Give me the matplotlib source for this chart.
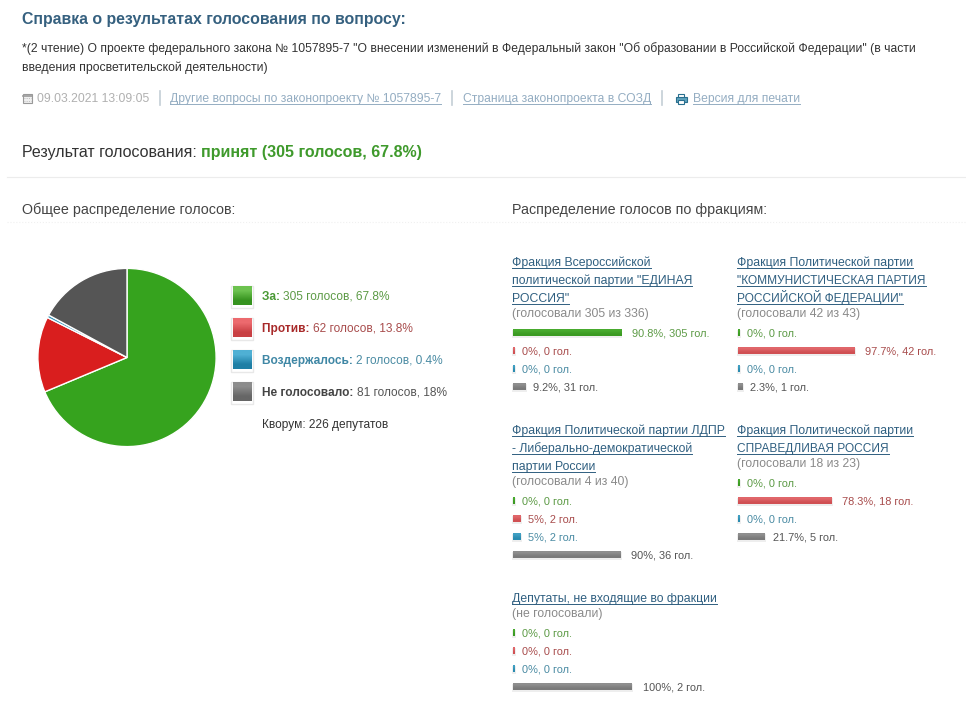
import numpy as np
import matplotlib
matplotlib.use('Agg')
import matplotlib.pyplot as plt

plt.rcParams['font.family'] = ['Liberation Sans', 'DejaVu Sans']

# pie data, slice shares as they are drawn in the picture
pie_labels = ['За:', 'Против:', 'Воздержалось:', 'Не голосовало:']
pie_details = ['305 голосов, 67.8%', '62 голосов, 13.8%', '2 голосов, 0.4%', '81 голосов, 18%']
pie_shares = [68.7, 13.7, 0.5, 17.1]

# factions
faction_titles = [
    ['Фракция Всероссийской', 'политической партии "ЕДИНАЯ', 'РОССИЯ"'],
    ['Фракция Политической партии', '"КОММУНИСТИЧЕСКАЯ ПАРТИЯ', 'РОССИЙСКОЙ ФЕДЕРАЦИИ"'],
    ['Фракция Политической партии ЛДПР', '- Либерально-демократической', 'партии России'],
    ['Фракция Политической партии', 'СПРАВЕДЛИВАЯ РОССИЯ'],
    ['Депутаты, не входящие во фракции'],
]
faction_notes = [
    '(голосовали 305 из 336)',
    '(голосовали 42 из 43)',
    '(голосовали 4 из 40)',
    '(голосовали 18 из 23)',
    '(не голосовали)',
]
pct_for = [90.8, 0, 0, 0, 0]
pct_against = [0, 97.7, 5, 78.3, 0]
pct_abstain = [0, 0, 5, 0, 0]
pct_absent = [9.2, 2.3, 90, 21.7, 100]
votes_for = [305, 0, 0, 0, 0]
votes_against = [0, 42, 2, 18, 0]
votes_abstain = [0, 0, 2, 0, 0]
votes_absent = [31, 1, 36, 5, 2]

# layout, in page pixels
faction_x = [512, 737, 512, 737, 512]
faction_y = [262, 262, 430, 430, 598]
BAR_SCALE = 1.175
LABEL_SCALE = 1.21

PIE_COLORS = ['#36a31e', '#d91e1e', '#2f8fb5', '#555555']
SWATCH_TOP = ['#6cc24f', '#ec6a6e', '#4fb0d4', '#8c8c8c']
SWATCH_BOTTOM = ['#36931f', '#c94044', '#1f7fa5', '#666666']
BAR_TOP = ['#48aa2e', '#e0666a', '#3f9fc2', '#8e8e8e']
BAR_BOTTOM = ['#3b9a22', '#d05053', '#2a8bb0', '#7a7a7a']
TEXT_COLORS = ['#5c9a45', '#a84c4c', '#4a8ba3', '#555555']
HEAD_COLORS = ['#4a9a35', '#a82a2a', '#3f87a5', '#444444']
LINK = '#2f5f80'
LINK_PALE = '#94adc2'
GREY = '#8a8a8a'
DARK = '#333333'


def gradient_box(ax, x0, x1, y0, y1, top, bottom, zorder=3):
    rgb = np.array([matplotlib.colors.to_rgb(top), matplotlib.colors.to_rgb(bottom)])
    ax.imshow(rgb[:, None, :], extent=(x0, x1, y1, y0), aspect='auto',
              interpolation='bilinear', zorder=zorder)


def text_width(ax, t):
    return t.get_window_extent(ax.figure.canvas.get_renderer()).width


def run(ax, x, y, s, size, color, bold=False, link=False):
    # y is the middle of the line, text sits on a shared baseline so bold and
    # regular runs stay level. returns the x where the text ends
    t = ax.text(x, y + 0.46 * size, s, fontsize=size, color=color, va='baseline', ha='left',
                fontweight='bold' if bold else 'normal')
    w = text_width(ax, t)
    if link:
        ax.plot([x, x + w], [y + 6, y + 6], color=color, lw=0.7, zorder=2)
    return x + w


def main():
    fig = plt.figure(figsize=(9.66, 7.14), dpi=100, facecolor='white')
    ax = fig.add_axes([0, 0, 1, 1])
    ax.set_xlim(0, 966)
    ax.set_ylim(714, 0)
    ax.axis('off')

    # header block
    run(ax, 22, 19, 'Справка о результатах голосования по вопросу:', 11.4, '#35607f', bold=True)
    run(ax, 22, 48, '*(2 чтение) О проекте федерального закона № 1057895-7 "О внесении изменений в '
        'Федеральный закон "Об образовании в Российской Федерации" (в части', 8.75, DARK)
    run(ax, 22, 66.5, 'введения просветительской деятельности)', 8.8, DARK)

    # calendar icon
    ax.add_patch(plt.Rectangle((22.5, 93.5), 9.5, 9.5, fc='#efefef', ec='#999999', lw=0.8))
    ax.plot([22.5, 32], [95.5, 95.5], color='#999999', lw=1.2)
    for gy in [98, 100.5]:
        ax.plot([23.5, 31], [gy, gy], color='#aaaaaa', lw=0.6, ls=':')
    run(ax, 37, 98, '09.03.2021 13:09:05', 8.75, '#b0b0b0')
    ax.plot([160, 160], [91, 105], color='#c4ced6', lw=1.2)
    run(ax, 170, 98, 'Другие вопросы по законопроекту № 1057895-7', 8.75, LINK_PALE, link=True)
    ax.plot([452, 452], [91, 105], color='#c4ced6', lw=1.2)
    run(ax, 463, 98, 'Страница законопроекта в СОЗД', 8.75, LINK_PALE, link=True)
    ax.plot([662, 662], [91, 105], color='#c4ced6', lw=1.2)
    # printer icon
    ax.add_patch(plt.Rectangle((678, 94), 6, 4, fc='white', ec='#2a6f8f', lw=0.8))
    ax.add_patch(plt.Rectangle((675.5, 97), 11, 5, fc='#5fa3bd', ec='#2a6f8f', lw=0.8))
    ax.add_patch(plt.Rectangle((678, 100), 6, 4, fc='white', ec='#2a6f8f', lw=0.8))
    run(ax, 693, 98, 'Версия для печати', 8.75, LINK_PALE, link=True)

    end = run(ax, 22, 151.5, 'Результат голосования: ', 11.5, DARK)
    run(ax, end, 151.5, 'принят (305 голосов, 67.8%)', 11.5, '#3f9a2c', bold=True)
    ax.plot([7, 966], [177, 177], color='#ececec', lw=0.8)

    run(ax, 22, 209, 'Общее распределение голосов:', 10.28, '#444444')
    run(ax, 512, 209, 'Распределение голосов по фракциям:', 10.28, '#444444')
    ax.plot([7, 966], [222, 222], color='#f0f0f0', lw=0.8, ls=':')

    # pie in its own axes
    pie_ax = fig.add_axes([(127 - 90) / 966, 1 - (357.5 + 90) / 714, 180 / 966, 180 / 714])
    pie_ax.pie(pie_shares, colors=PIE_COLORS, startangle=90, counterclock=False, radius=1.0,
               wedgeprops={'edgecolor': 'white', 'linewidth': 1.0})
    pie_ax.set_xlim(-1.01, 1.01)
    pie_ax.set_ylim(-1.01, 1.01)

    # pie legend
    for i, y in enumerate([296, 328, 360, 392]):
        ax.add_patch(plt.Rectangle((230.5, y - 10.5), 22, 22, fc='white', ec='#e8e8e8', lw=1, zorder=2))
        gradient_box(ax, 232.5, 251, y - 9.5, y + 9.5, SWATCH_TOP[i], SWATCH_BOTTOM[i])
        end = run(ax, 262, y, pie_labels[i] + ' ', 8.6, HEAD_COLORS[i], bold=True)
        run(ax, end, y, pie_details[i], 8.6, TEXT_COLORS[i])
    run(ax, 262, 424, 'Кворум: 226 депутатов', 8.6, DARK)

    # faction blocks
    rows = [
        (pct_for, votes_for), (pct_against, votes_against),
        (pct_abstain, votes_abstain), (pct_absent, votes_absent),
    ]
    for f, x in enumerate(faction_x):
        y = faction_y[f]
        for line in faction_titles[f]:
            # capitals run narrower in the picture
            size = 8.6 if sum(c.isupper() for c in line) > 8 else 8.85
            run(ax, x, y, line, size, LINK, link=True)
            y += 18
        y -= 3
        run(ax, x, y, faction_notes[f], 8.85, GREY)
        y += 20
        for r, (pcts, votes) in enumerate(rows):
            width = 1.5 + pcts[f] * BAR_SCALE
            bx = x + 1.3
            ax.barh(y + 0.5, width + 2, height=8, left=bx - 1, color='#eeeeee', zorder=1)
            bars = ax.barh(y - 0.5, width, height=6.5, left=bx, color=BAR_TOP[r], zorder=2)
            box = bars[0].get_bbox()
            gradient_box(ax, box.x0, box.x1, box.y0, box.y1, BAR_TOP[r], BAR_BOTTOM[r])
            label_x = x + 9.8 + pcts[f] * LABEL_SCALE
            run(ax, label_x, y, '%g%%, %d гол.' % (pcts[f], votes[f]), 7.95, TEXT_COLORS[r])
            y += 18

    ax.set_xlim(0, 966)
    ax.set_ylim(714, 0)
    fig.savefig('out.png', dpi=100, facecolor='white')


if __name__ == '__main__':
    main()
